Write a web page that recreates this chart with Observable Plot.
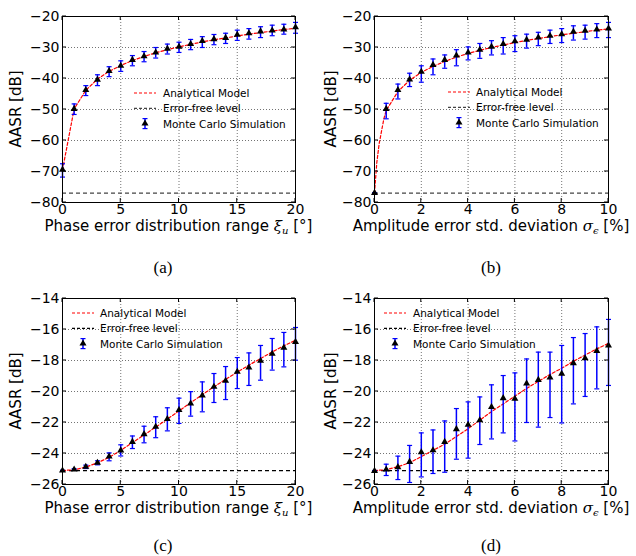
<!DOCTYPE html>
<html>
<head>
<meta charset="utf-8">
<script src="https://cdn.jsdelivr.net/npm/d3@7"></script>
<script src="https://cdn.jsdelivr.net/npm/@observablehq/plot@0.6"></script>
<style>
  html, body { margin: 0; padding: 0; background: #fff; }
  #fig { position: relative; width: 636px; height: 556px; background: #fff; overflow: hidden; }
  #fig svg { position: absolute; }
  .cap { position: absolute; font-family: "Liberation Serif", "Times New Roman", serif; font-size: 17px; line-height: 17px; color: #000; transform: translate(-50%, -50%); }
</style>
</head>
<body>
<div id="fig"></div>
<script>
// ---------- data ----------
const xA = [0,1,2,3,4,5,6,7,8,9,10,11,12,13,14,15,16,17,18,19,20];
const mcA = [-69.4,-49.8,-43.7,-40.4,-37.6,-35.9,-34.0,-32.8,-31.6,-30.4,-29.75,-28.9,-27.9,-27.3,-26.9,-25.9,-25.4,-24.8,-24.5,-24.2,-23.5];
const hiA = [-67.5,-48.2,-42.3,-38.8,-36.2,-34.3,-32.6,-31.3,-30.0,-28.9,-28.3,-27.4,-26.5,-25.8,-25.4,-24.4,-23.9,-23.3,-22.8,-22.5,-21.9];
const loA = [-71.8,-51.6,-45.5,-42.3,-39.4,-37.7,-35.9,-34.6,-33.4,-32.1,-31.6,-30.7,-30.0,-29.1,-28.7,-27.7,-27.3,-26.8,-26.2,-25.7,-25.4];
const modelXA = [0,1,2,3,4,5,6,7,8,9,10,11,12,13,14,15,16,17,18,19,20];
const modelA = [-69.5,-49.8,-43.8,-40.2,-37.7,-35.8,-34.2,-32.9,-31.7,-30.7,-29.8,-29.0,-28.2,-27.5,-26.9,-26.3,-25.7,-25.2,-24.7,-24.2,-23.8];
const floorA = -77;

const xB = [0,0.5,1,1.5,2,2.5,3,3.5,4,4.5,5,5.5,6,6.5,7,7.5,8,8.5,9,9.5,10];
const mcB = [-76.9,-49.8,-43.7,-40.3,-37.8,-35.6,-34.0,-32.6,-31.6,-30.7,-29.75,-28.9,-28.0,-27.5,-26.75,-26.2,-25.7,-24.9,-24.6,-24.2,-23.9];
const hiB = [-76.9,-48.0,-41.8,-38.3,-35.9,-33.7,-32.4,-30.7,-29.8,-28.7,-27.8,-26.8,-26.2,-25.7,-25.1,-24.4,-23.9,-23.0,-22.8,-22.3,-21.9];
const loB = [-76.9,-53.0,-46.6,-42.6,-41.2,-38.8,-36.7,-35.9,-34.0,-33.5,-32.4,-32.1,-31.3,-30.2,-29.4,-28.7,-28.4,-27.6,-27.3,-26.8,-26.8];
const modelXB = [0,0.1,0.2,0.3,0.4,0.5,1,1.5,2,2.5,3,3.5,4,4.5,5,5.5,6,6.5,7,7.5,8,8.5,9,9.5,10];
const modelB = [-77,-67,-61,-57,-53,-50.3,-44.2,-40.6,-38.0,-36.1,-34.5,-33.1,-31.9,-30.9,-30.0,-29.2,-28.4,-27.7,-27.1,-26.5,-25.9,-25.4,-24.9,-24.4,-24.0];
const floorB = -77;

const xC = [0,1,2,3,4,5,6,7,8,9,10,11,12,13,14,15,16,17,18,19,20];
const mcC = [-25.1,-25.03,-24.86,-24.6,-24.2,-23.8,-23.25,-22.75,-22.28,-21.78,-21.2,-20.77,-20.26,-19.7,-19.31,-18.73,-18.45,-18.02,-17.57,-17.18,-16.8];
const hiC = [-25.08,-24.98,-24.75,-24.47,-23.96,-23.44,-22.87,-22.24,-21.63,-21.05,-20.43,-20.01,-19.38,-18.84,-18.39,-17.81,-17.51,-17.03,-16.58,-16.19,-15.87];
const loC = [-25.12,-25.08,-24.97,-24.73,-24.47,-24.16,-23.68,-23.31,-22.98,-22.54,-22.06,-21.59,-21.31,-20.71,-20.52,-19.81,-19.61,-19.27,-18.62,-18.41,-17.98];
const modelXC = [0,1,2,3,4,5,6,7,8,9,10,11,12,13,14,15,16,17,18,19,20];
const modelC = [-25.1,-25.05,-24.88,-24.6,-24.25,-23.8,-23.3,-22.8,-22.3,-21.78,-21.25,-20.73,-20.2,-19.7,-19.22,-18.75,-18.3,-17.87,-17.45,-17.05,-16.7];
const floorC = -25.1;

const xD = [0,0.5,1,1.5,2,2.5,3,3.5,4,4.5,5,5.5,6,6.5,7,7.5,8,8.5,9,9.5,10];
const mcD = [-25.12,-25.03,-24.88,-24.54,-23.92,-23.79,-23.25,-22.43,-22.15,-21.85,-21.0,-20.43,-20.47,-19.49,-19.25,-19.1,-18.86,-18.17,-17.85,-17.38,-17.03];
const hiD = [-25.1,-24.69,-24.17,-23.48,-22.67,-22.48,-21.9,-21.1,-20.67,-20.35,-19.57,-18.97,-18.8,-17.9,-17.46,-17.46,-17.03,-16.52,-16.26,-15.83,-15.35];
const loD = [-25.1,-25.42,-25.68,-25.87,-25.51,-25.29,-25.21,-24.37,-24.3,-23.42,-23.06,-22.67,-23.19,-22.0,-22.3,-21.68,-22.03,-20.8,-20.32,-19.83,-19.61];
const modelXD = [0,0.5,1,1.5,2,2.5,3,3.5,4,4.5,5,5.5,6,6.5,7,7.5,8,8.5,9,9.5,10];
const modelD = [-25.1,-25.05,-24.85,-24.6,-24.2,-23.8,-23.4,-22.9,-22.4,-21.85,-21.3,-20.8,-20.3,-19.8,-19.35,-18.9,-18.5,-18.05,-17.65,-17.25,-16.9];
const floorD = -25.1;

const xTicksPhase = [0,5,10,15,20];
const xTicksAmp = [0,2,4,6,8,10];
const yTicksTop = [-80,-70,-60,-50,-40,-30,-20];
const yTicksBottom = [-26,-24,-22,-20,-18,-16,-14];
const legendLabels = ["Analytical Model", "Error-free level", "Monte Carlo Simulation"];
const captions = ["(a)", "(b)", "(c)", "(d)"];

// ---------- drawing ----------
const FONT = "DejaVu Sans";
const capSymbol = {
  draw(context, size) {
    const r = Math.sqrt(size / Math.PI);
    context.moveTo(-r, 0);
    context.lineTo(r, 0);
  }
};

function panel(o) {
  const mc = o.x.map((x, i) => ({x, y: o.mc[i], lo: o.lo[i], hi: o.hi[i]}));
  const model = o.mx.map((x, i) => ({x, y: o.my[i]}));
  const svg = Plot.plot({
    width: 318, height: 240,
    marginLeft: o.ml, marginRight: o.mr, marginTop: 16, marginBottom: 38,
    style: {fontFamily: FONT, fontSize: "14px", color: "#000", background: "transparent", overflow: "visible"},
    x: {domain: o.xDomain},
    y: {domain: o.yDomain},
    marks: [
      Plot.gridX(o.xTicks, {stroke: "#000", strokeOpacity: 0.55, strokeDasharray: "1,2"}),
      Plot.gridY(o.yTicks, {stroke: "#000", strokeOpacity: 0.55, strokeDasharray: "1,2"}),
      Plot.axisX(o.xTicks, {tickSize: 0, tickPadding: 2, label: null, tickFormat: d3.format("d")}),
      Plot.axisY(o.yTicks, {tickSize: 0, tickPadding: 3, label: null, tickFormat: d3.format("d")}),
      Plot.ruleY([o.floor], {stroke: o.floorColor, strokeWidth: 1.2, strokeDasharray: "4,3"}),
      Plot.line(model, {x: "x", y: "y", stroke: "#ff0000", strokeWidth: 1.2, strokeDasharray: "3,2"}),
      Plot.ruleX(mc, {x: "x", y1: "lo", y2: "hi", stroke: "#0000ff", strokeWidth: 1.5}),
      Plot.dot(mc, {x: "x", y: "lo", symbol: capSymbol, r: 2.5, stroke: "#0000ff", strokeWidth: 1.2}),
      Plot.dot(mc, {x: "x", y: "hi", symbol: capSymbol, r: 2.5, stroke: "#0000ff", strokeWidth: 1.2}),
      Plot.dot(mc, {x: "x", y: "y", symbol: "triangle", r: 2.6, fill: "#000", stroke: "none"}),
      Plot.frame({stroke: "#000", strokeWidth: 1})
    ]
  });
  const s = d3.select(svg);
  const fx0 = o.ml, fx1 = 318 - o.mr, fy0 = 16, fy1 = 240 - 38;
  // inward tick marks on all four sides
  const xs = d3.scaleLinear().domain(o.xDomain).range([fx0, fx1]);
  const ys = d3.scaleLinear().domain(o.yDomain).range([fy1, fy0]);
  const tg = s.append("g").attr("stroke", "#000").attr("stroke-width", 1);
  o.xTicks.forEach(t => {
    tg.append("line").attr("x1", xs(t)).attr("x2", xs(t)).attr("y1", fy1).attr("y2", fy1 - 4);
    tg.append("line").attr("x1", xs(t)).attr("x2", xs(t)).attr("y1", fy0).attr("y2", fy0 + 4);
  });
  o.yTicks.forEach(t => {
    tg.append("line").attr("y1", ys(t)).attr("y2", ys(t)).attr("x1", fx0).attr("x2", fx0 + 4);
    tg.append("line").attr("y1", ys(t)).attr("y2", ys(t)).attr("x1", fx1).attr("x2", fx1 - 4);
  });
  // y label
  s.append("text")
    .attr("transform", `translate(${o.ylx},${(fy0 + fy1) / 2}) rotate(-90)`)
    .attr("text-anchor", "middle").attr("dominant-baseline", "central")
    .attr("font-family", FONT).attr("font-size", 15).attr("fill", "#000")
    .text("AASR [dB]");
  // x label
  const xl = s.append("text")
    .attr("x", (fx0 + fx1) / 2).attr("y", 231)
    .attr("text-anchor", "middle")
    .attr("font-family", FONT).attr("font-size", 15).attr("fill", "#000");
  xl.append("tspan").text(o.xlabel[0]);
  xl.append("tspan").attr("font-style", "italic").attr("font-family", "DejaVu Serif").text(o.xlabel[1]);
  xl.append("tspan").attr("font-style", "italic").attr("font-family", "DejaVu Serif").attr("font-size", 10).attr("dy", 3).text(o.xlabel[2]);
  xl.append("tspan").attr("dy", -3).text(o.xlabel[3]);
  // legend
  const lg = s.append("g").attr("font-family", FONT).attr("font-size", 10.5).attr("fill", "#000").attr("text-anchor", "start");
  const hx0 = o.lx, hx1 = o.lx + 22, tx = o.ltx;
  const rows = [o.ly, o.ly + 15.3, o.ly + 30.6];
  lg.append("line").attr("x1", hx0).attr("x2", hx1).attr("y1", rows[0]).attr("y2", rows[0])
    .attr("stroke", "#ff0000").attr("stroke-width", 1.2).attr("stroke-dasharray", "3,2");
  lg.append("line").attr("x1", hx0).attr("x2", hx1).attr("y1", rows[1]).attr("y2", rows[1])
    .attr("stroke", o.floorColor).attr("stroke-width", 1.2).attr("stroke-dasharray", "3,2");
  const cx = (hx0 + hx1) / 2, cy = rows[2];
  lg.append("line").attr("x1", cx).attr("x2", cx).attr("y1", cy - 5).attr("y2", cy + 5).attr("stroke", "#0000ff").attr("stroke-width", 1.5);
  lg.append("line").attr("x1", cx - 2.5).attr("x2", cx + 2.5).attr("y1", cy - 5).attr("y2", cy - 5).attr("stroke", "#0000ff").attr("stroke-width", 1.2);
  lg.append("line").attr("x1", cx - 2.5).attr("x2", cx + 2.5).attr("y1", cy + 5).attr("y2", cy + 5).attr("stroke", "#0000ff").attr("stroke-width", 1.2);
  lg.append("path").attr("d", d3.symbol(d3.symbolTriangle, 2.6 * 2.6 * Math.PI)()).attr("transform", `translate(${cx},${cy})`).attr("fill", "#000");
  legendLabels.forEach((t, i) => {
    lg.append("text").attr("x", tx).attr("y", rows[i]).attr("text-anchor", "start").attr("dominant-baseline", "central").text(t);
  });
  svg.style.left = o.left + "px";
  svg.style.top = o.top + "px";
  return svg;
}

const fig = document.getElementById("fig");
const phaseLabel = ["Phase error distribution range ", "ξ", "u", " [°]"];
const ampLabel = ["Amplitude error std. deviation ", "σ", "ϵ", " [%]"];

fig.appendChild(panel({left: 0, top: 0, ml: 62, mr: 23, x: xA, mc: mcA, lo: loA, hi: hiA, mx: modelXA, my: modelA,
  floor: floorA, floorColor: "#444", xDomain: [0, 20], yDomain: [-80, -20], xTicks: xTicksPhase, yTicks: yTicksTop,
  xlabel: phaseLabel, ylx: 16, lx: 134, ltx: 163, ly: 93}));
fig.appendChild(panel({left: 318, top: 0, ml: 56, mr: 28, x: xB, mc: mcB, lo: loB, hi: hiB, mx: modelXB, my: modelB,
  floor: floorB, floorColor: "#444", xDomain: [0, 10], yDomain: [-80, -20], xTicks: xTicksAmp, yTicks: yTicksTop,
  xlabel: ampLabel, ylx: 13, lx: 130, ltx: 158, ly: 92}));
fig.appendChild(panel({left: 0, top: 282, ml: 62, mr: 23, x: xC, mc: mcC, lo: loC, hi: hiC, mx: modelXC, my: modelC,
  floor: floorC, floorColor: "#000", xDomain: [0, 20], yDomain: [-26, -14], xTicks: xTicksPhase, yTicks: yTicksBottom,
  xlabel: phaseLabel, ylx: 16, lx: 72, ltx: 100, ly: 31}));
fig.appendChild(panel({left: 318, top: 282, ml: 56, mr: 28, x: xD, mc: mcD, lo: loD, hi: hiD, mx: modelXD, my: modelD,
  floor: floorD, floorColor: "#000", xDomain: [0, 10], yDomain: [-26, -14], xTicks: xTicksAmp, yTicks: yTicksBottom,
  xlabel: ampLabel, ylx: 13, lx: 66, ltx: 95, ly: 31}));

const capPos = [[163, 267], [491, 267], [163, 545], [491, 545]];
captions.forEach((c, i) => {
  const d = document.createElement("div");
  d.className = "cap";
  d.style.left = capPos[i][0] + "px";
  d.style.top = capPos[i][1] + "px";
  d.textContent = c;
  fig.appendChild(d);
});
</script>
</body>
</html>
